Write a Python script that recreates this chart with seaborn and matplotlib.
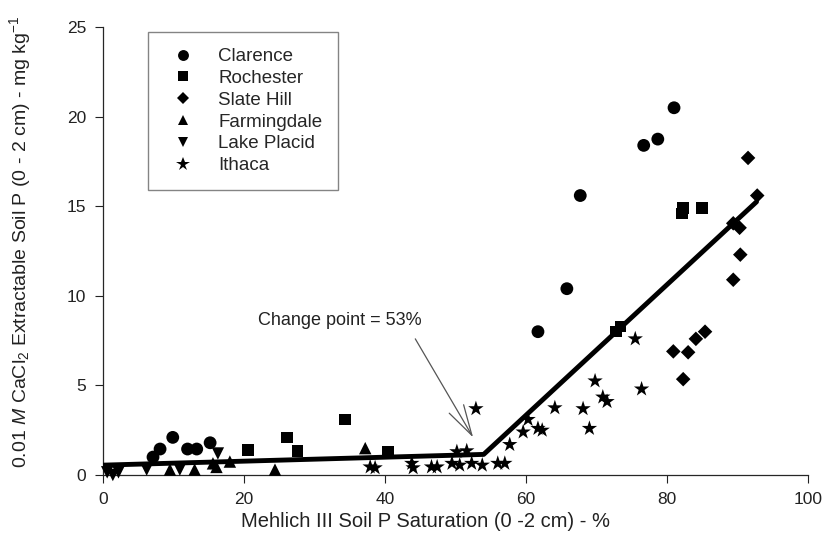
import pandas as pd
import matplotlib
matplotlib.use("Agg")
import matplotlib.pyplot as plt
import seaborn as sns

# ---- values ----
clarence_x = [7.1, 8.1, 9.9, 12.0, 13.3, 15.2, 61.7, 65.8, 67.7, 76.7, 78.7, 81.0]
clarence_y = [1.0, 1.45, 2.1, 1.45, 1.45, 1.8, 8.0, 10.4, 15.6, 18.4, 18.75, 20.5]

rochester_x = [20.6, 26.1, 27.6, 34.3, 40.4, 72.8, 73.4, 82.1, 82.3, 85.0]
rochester_y = [1.4, 2.1, 1.35, 3.1, 1.3, 8.0, 8.3, 14.6, 14.9, 14.9]

slate_x = [80.9, 82.3, 83.0, 84.1, 85.4, 89.4, 89.4, 90.3, 90.4, 91.5, 92.8]
slate_y = [6.9, 5.35, 6.85, 7.6, 8.0, 10.9, 14.05, 13.8, 12.3, 17.7, 15.6]

farm_x = [9.5, 13.0, 15.6, 16.1, 18.0, 24.4, 37.2]
farm_y = [0.3, 0.3, 0.65, 0.45, 0.75, 0.3, 1.5]

placid_x = [0.6, 1.4, 2.2, 6.2, 10.9, 16.3]
placid_y = [0.15, 0.0, 0.15, 0.3, 0.3, 1.2]

ithaca_x = [37.9, 38.6, 43.8, 44.0, 46.6, 47.4, 49.5, 50.2, 50.6, 51.6, 52.3,
            52.9, 53.8, 56.0, 57.0, 57.7, 59.6, 60.3, 61.7, 62.3, 64.1, 68.1,
            69.0, 69.8, 70.9, 71.5, 75.5, 76.4]
ithaca_y = [0.45, 0.4, 0.65, 0.4, 0.45, 0.45, 0.65, 1.3, 0.55, 1.35, 0.65,
            3.7, 0.55, 0.65, 0.65, 1.7, 2.4, 3.1, 2.6, 2.5, 3.75, 3.7,
            2.6, 5.25, 4.35, 4.1, 7.6, 4.8]

# fitted split-line regression (change point ~53-54 %)
fit_x = [0, 54.0, 92.7]
fit_y = [0.55, 1.15, 15.25]

sites = ["Clarence", "Rochester", "Slate Hill", "Farmingdale", "Lake Placid", "Ithaca"]
site_markers = {"Clarence": "o", "Rochester": "s", "Slate Hill": "D",
                "Farmingdale": "^", "Lake Placid": "v", "Ithaca": "*"}
site_sizes = {"Clarence": 85, "Rochester": 70, "Slate Hill": 55,
              "Farmingdale": 80, "Lake Placid": 80, "Ithaca": 135}

frames = []
for name, xs, ys in zip(sites,
                        [clarence_x, rochester_x, slate_x, farm_x, placid_x, ithaca_x],
                        [clarence_y, rochester_y, slate_y, farm_y, placid_y, ithaca_y]):
    frames.append(pd.DataFrame({"sat": xs, "p": ys, "site": name}))
df = pd.concat(frames, ignore_index=True)

sns.set_style("ticks")
plt.rcParams["font.family"] = ["Liberation Sans", "DejaVu Sans"]
plt.rcParams["mathtext.fontset"] = "custom"
plt.rcParams["mathtext.rm"] = "Liberation Sans"
plt.rcParams["mathtext.it"] = "Liberation Sans:italic"

fig = plt.figure(figsize=(8.27, 5.54), dpi=100)
ax = fig.add_axes([0.1245, 0.1426, 0.8525, 0.8084])

sns.scatterplot(data=df, x="sat", y="p", style="site", style_order=sites,
                markers=site_markers, size="site", size_order=sites,
                sizes=site_sizes, color="black", linewidth=0,
                ax=ax, zorder=3, clip_on=False)

sns.lineplot(x=fit_x, y=fit_y, color="black", linewidth=3.5, ax=ax, zorder=4)

# change point label and arrow
ax.text(33.6, 8.65, "Change point = 53%", ha="center", va="center",
        fontsize=13, color="#222222")
ax.annotate("", xy=(52.5, 2.1), xytext=(44.3, 7.6),
            arrowprops=dict(arrowstyle="->,head_length=1.1,head_width=0.3",
                            mutation_scale=20, color="#555555", lw=0.9,
                            shrinkA=0, shrinkB=0))

ax.set_xlim(0, 100)
ax.set_ylim(0, 25)
ax.set_xticks([0, 20, 40, 60, 80, 100])
ax.set_yticks([0, 5, 10, 15, 20, 25])
ax.tick_params(labelsize=12.5, length=6, width=0.8, pad=6, colors="#222222")
ax.set_xlabel("Mehlich III Soil P Saturation (0 -2 cm) - %", fontsize=14.5,
              color="#222222")
ax.set_ylabel("0.01 $M$ CaCl$_2$ Extractable Soil P (0 - 2 cm) - mg kg$^{-1}$",
              fontsize=14, color="#222222")
ax.xaxis.set_label_coords(0.457, -0.083)
ax.yaxis.set_label_coords(-0.099, 0.52)
sns.despine(ax=ax)
for sp in ax.spines.values():
    sp.set_linewidth(0.9)

# legend without seaborn's title entry
handles, labels = ax.get_legend_handles_labels()
keep = [(h, l) for h, l in zip(handles, labels) if l in sites]
leg = ax.legend([h for h, _ in keep], [l for _, l in keep],
                loc="upper left", bbox_to_anchor=(0.064, 0.989),
                fontsize=13.5, frameon=True, fancybox=False,
                edgecolor="#666666", borderpad=0.85, labelspacing=0.25,
                handletextpad=0.9, borderaxespad=0, markerscale=0.85)
leg.get_frame().set_linewidth(1.0)

fig.savefig("out.png", dpi=100)
